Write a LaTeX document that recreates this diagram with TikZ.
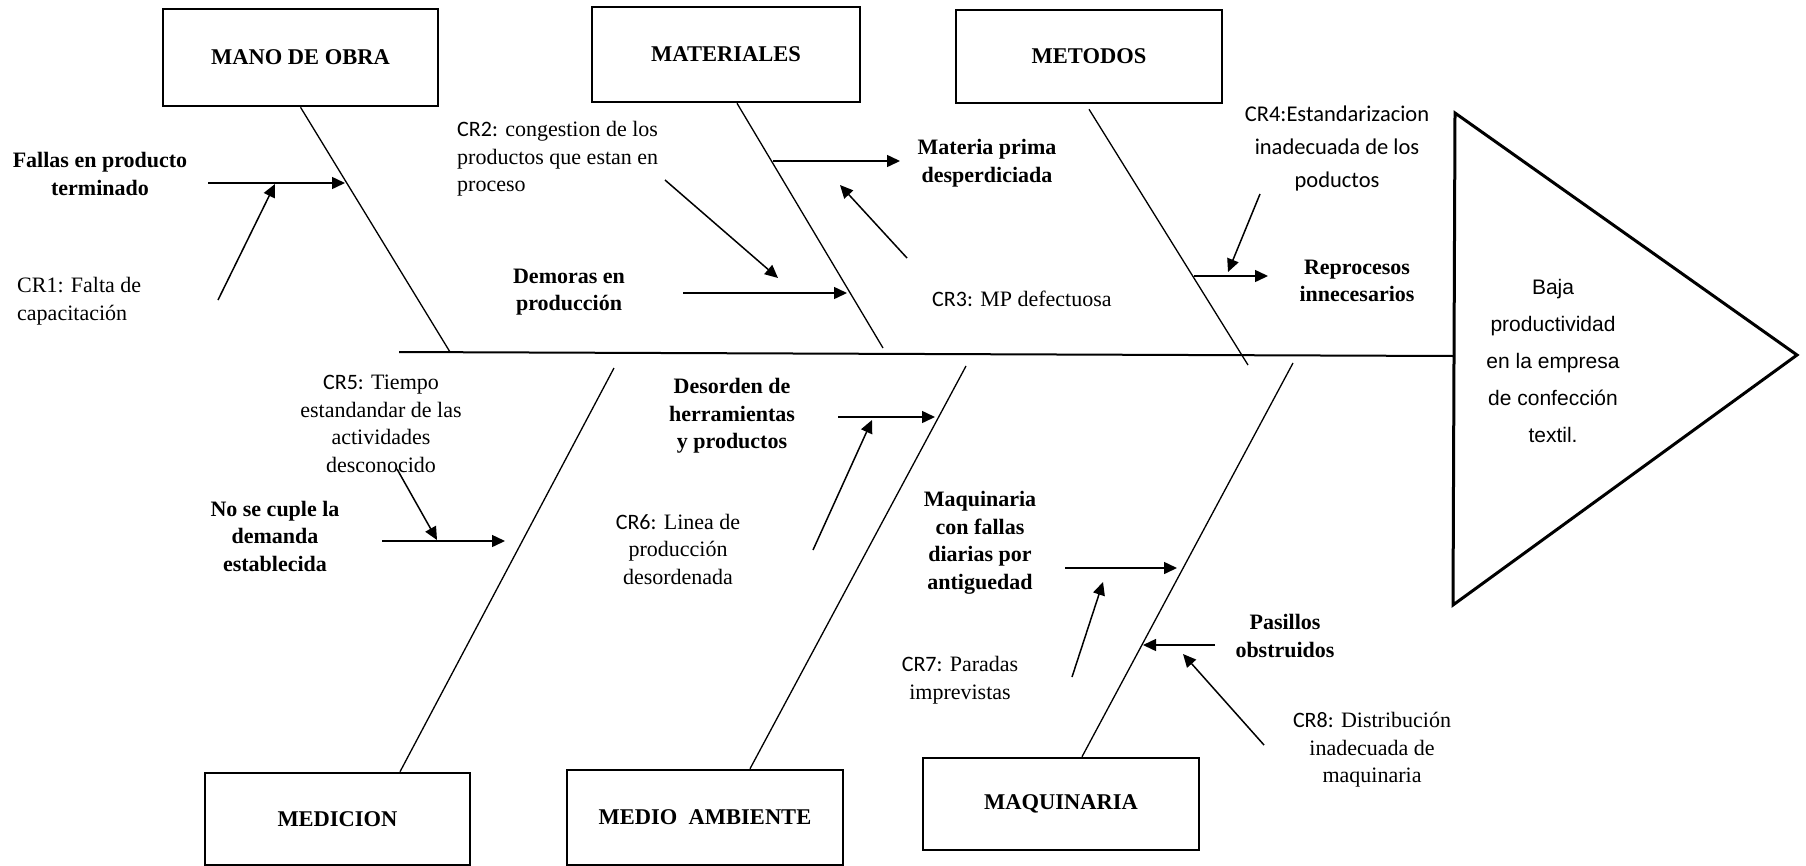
\documentclass[tikz,border=0pt]{standalone}
\usepackage{fontspec}
\setmainfont{Liberation Serif}
\newfontfamily\crfont{Carlito}
\newfontfamily\arialfont{Liberation Sans}
\usetikzlibrary{arrows.meta}
\newcommand\CRp[1]{{\crfont #1}}
\begin{document}
\begin{tikzpicture}[x=1pt,y=-1pt,
  catbox/.style={draw, line width=2.5pt, inner sep=0pt, font=\fontsize{22.5}{27}\selectfont\bfseries},
  bone/.style={line width=1.3pt},
  arr/.style={line width=1.5pt, -{Triangle[length=13pt,width=12pt]}},
  lbl/.style={font=\fontsize{22}{27.5}\selectfont\bfseries, align=center, inner sep=0pt},
  txt/.style={font=\fontsize{22}{27.5}\selectfont, align=center, inner sep=0pt}]
\useasboundingbox (0,0) rectangle (1806,865);

% category boxes
\node[catbox, minimum width=275pt, minimum height=97pt] (mano) at (300.5,57.5) {MANO DE OBRA};
\node[catbox, minimum width=268pt, minimum height=95pt] (mat) at (726,54.5) {MATERIALES};
\node[catbox, minimum width=266pt, minimum height=93pt] (met) at (1089,56.5) {METODOS};
\node[catbox, minimum width=265pt, minimum height=92pt] (medi) at (337.5,819) {MEDICION};
\node[catbox, minimum width=276pt, minimum height=95pt] (amb) at (705,817.5) {MEDIO\ \ AMBIENTE};
\node[catbox, minimum width=276pt, minimum height=92pt] (maq) at (1061,804) {MAQUINARIA};

% spine and effect triangle
\coordinate (sp0) at (399,352);
\coordinate (sp1) at (1454,356);
\draw[line width=2pt] (sp0) -- (sp1);
\coordinate (t1) at (1455,113);
\coordinate (t2) at (1797,355);
\coordinate (t3) at (1453,605);
\draw[line width=3pt] (t1) -- (t2) -- (t3) -- cycle;
\node[font=\arialfont\fontsize{21}{37}\selectfont, align=center, inner sep=0pt] (efecto) at (1553,361)
  {Baja\\productividad\\en la empresa\\de confección\\textil.};

% bones
\coordinate (b1) at (450,352);
\coordinate (b2) at (883,348);
\coordinate (b3) at (1248,365);
\coordinate (b4) at (614,368);
\coordinate (b5) at (966,366);
\coordinate (b6) at (1293,363);
\draw[bone] (mano.south) -- (b1);
\draw[bone] ([xshift=11pt]mat.south) -- (b2);
\draw[bone] ([yshift=-5pt]met.south) -- (b3);
\draw[bone] ([xshift=62.5pt]medi.north) -- (b4);
\draw[bone] ([xshift=45pt]amb.north) -- (b5);
\draw[bone] ([xshift=21pt]maq.north) -- (b6);

% texts
\node[lbl] (fallas) at (100,174) {Fallas en producto\\terminado};
\node[txt, align=left, anchor=west] (cr1) at (17,301) {CR1: Falta de\\capacitación};
\node[txt, align=left, anchor=west] (cr2) at (457,159) {\CRp{CR2:} congestion de los\\productos que estan en\\proceso};
\node[lbl] (materia) at (987,163) {Materia prima\\desperdiciada};
\node[txt, anchor=west] (cr3) at (932,299) {\CRp{CR3:} MP defectuosa};
\node[lbl] (demoras) at (569,292) {Demoras en\\producción};
\node[lbl] (repro) at (1357,281) {Reprocesos\\innecesarios};
\node[txt, font=\crfont\fontsize{22.5}{33}\selectfont] (cr4) at (1337,148) {CR4:Estandarizacion\\inadecuada de los\\poductos};
\node[txt] (cr5) at (381,424) {\CRp{CR5:} Tiempo\\estandandar de las\\actividades\\desconocido};
\node[lbl] (nocuple) at (275,536) {No se cuple la\\demanda\\establecida};
\node[lbl] (desorden) at (732,416) {Desorden de\\herramientas\\y productos};
\node[txt] (cr6) at (678,549) {\CRp{CR6:} Linea de\\producción\\desordenada};
\node[lbl] (maqf) at (980,543) {Maquinaria\\con fallas\\diarias por\\antiguedad};
\node[txt] (cr7) at (960,680) {\CRp{CR7:} Paradas\\imprevistas};
\node[lbl] (pasillos) at (1285,636) {Pasillos\\obstruidos};
\node[txt] (cr8) at (1372,750) {\CRp{CR8:} Distribución\\inadecuada de\\maquinaria};

% arrows
\coordinate (a1s) at (208,183);  \coordinate (a1e) at (345,183);
\coordinate (a2s) at (218,300);  \coordinate (a2e) at (275,184);
\coordinate (a3s) at (773,161);  \coordinate (a3e) at (900,161);
\coordinate (a4s) at (907,258);  \coordinate (a4e) at (840,185);
\coordinate (a5s) at (665,180);  \coordinate (a5e) at (778,278);
\coordinate (a6s) at (683,293);  \coordinate (a6e) at (847,293);
\coordinate (a7s) at (1194,276); \coordinate (a7e) at (1268,276);
\coordinate (a8s) at (1260,194); \coordinate (a8e) at (1228,272);
\coordinate (a9s) at (382,541);  \coordinate (a9e) at (505,541);
\coordinate (a10s) at (397,469); \coordinate (a10e) at (437,540);
\coordinate (a11s) at (838,417); \coordinate (a11e) at (935,417);
\coordinate (a12s) at (813,550); \coordinate (a12e) at (872,420);
\coordinate (a13s) at (1065,568); \coordinate (a13e) at (1177,568);
\coordinate (a14s) at (1072,677); \coordinate (a14e) at (1103,582);
\coordinate (a15s) at (1215,645); \coordinate (a15e) at (1143,645);
\coordinate (a16s) at (1264,745); \coordinate (a16e) at (1183,654);
\foreach \i in {1,...,16} {\draw[arr] (a\i s) -- (a\i e);}
\end{tikzpicture}
\end{document}
